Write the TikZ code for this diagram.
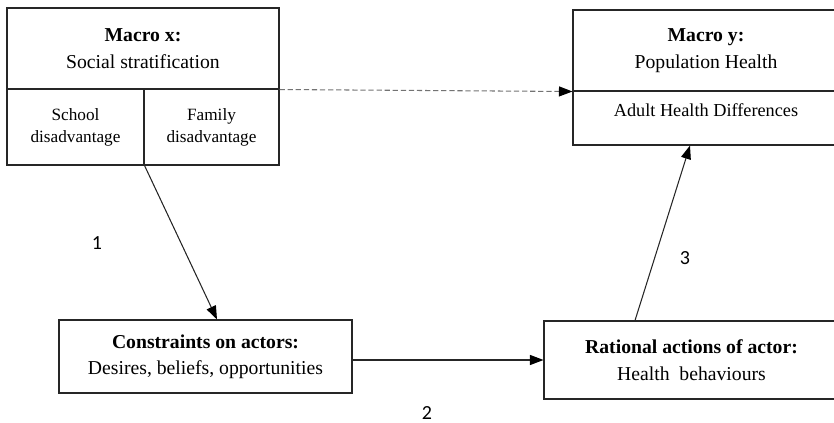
\documentclass[tikz,border=0pt]{standalone}
\usepackage{fontspec}
\setmainfont{Liberation Serif}
\newfontfamily\numfont{Carlito}
\usetikzlibrary{arrows.meta,positioning}

\begin{document}
\begin{tikzpicture}[
    box/.style={draw=black!85, rectangle, line width=0.6pt, inner sep=0pt, align=center},
    big/.style={font=\fontsize{11.2}{15}\selectfont},
    small/.style={font=\fontsize{9.8}{12.5}\selectfont},
    arr/.style={-{Triangle[length=0.27cm,width=0.2cm,color=black]}, line width=0.6pt, draw=black!85},
    num/.style={font=\numfont\fontsize{11.4}{13}\selectfont}
]
\useasboundingbox (0,0) rectangle (16.68,8.46);
\clip (0,0) rectangle (16.68,8.46);

% macro level
\node[box, big, minimum width=5.44cm, minimum height=1.62cm] (mxtop) at (2.86,7.49) {\textbf{Macro x:}\\Social stratification};
\node[box, small, minimum width=2.74cm, minimum height=1.52cm] (school) at (1.51,5.92) {School\\disadvantage};
\node[box, small, minimum width=2.70cm, minimum height=1.52cm] (family) at (4.23,5.92) {Family\\disadvantage};

\node[box, big, minimum width=5.32cm, minimum height=1.62cm] (mytop) at (14.12,7.45) {\textbf{Macro y:}\\Population Health};
\node[box, minimum width=5.32cm, minimum height=1.08cm] (mybot) at (14.12,6.10) {};
\node[inner sep=0pt, font=\fontsize{10.4}{12}\selectfont, below=0.26cm of mybot.north] (diff) {Adult Health Differences};

% micro level
\node[box, big, minimum width=5.86cm, minimum height=1.46cm] (cons) at (4.11,1.33) {\textbf{Constraints on actors:}\\Desires, beliefs, opportunities};
\node[box, big, minimum width=5.9cm, minimum height=1.56cm] (rational) at (13.83,1.26) {\textbf{Rational actions of actor:}\\Health\ \ behaviours};

\draw[arr, draw=black!55, dash pattern=on 3pt off 1.6pt] (mxtop.south east) -- (mytop.south west);
\draw[arr] (school.south east) -- ([xshift=0.23cm]cons.north);
\draw[arr] (rational.west -| cons.east) -- (rational.west);
\draw[arr] ([xshift=-1.13cm]rational.north) -- ([xshift=-0.32cm]mybot.south);

\node[num] (n1) at (1.94,3.6) {1};
\node[num] (n2) at (8.54,0.19) {2};
\node[num] (n3) at (13.7,3.3) {3};
\end{tikzpicture}
\end{document}
